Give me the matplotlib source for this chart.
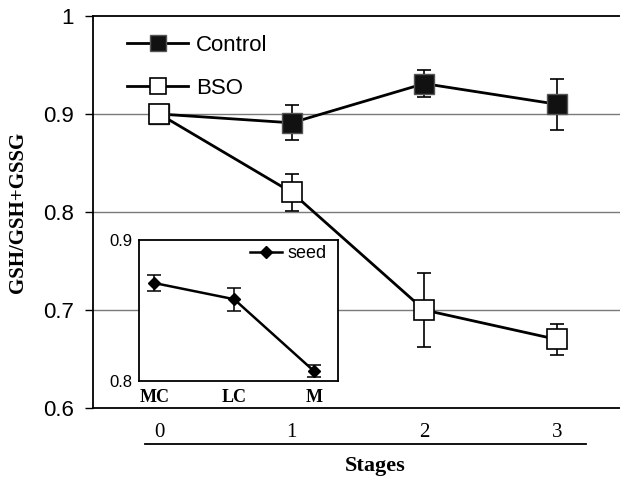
import matplotlib
matplotlib.use("Agg")
import matplotlib.pyplot as plt
from matplotlib.lines import Line2D

OUTPUT_PLOT = "out.png"

# main panel data
stages      = [0, 1, 2, 3]
control     = [0.900, 0.891, 0.931, 0.910]
control_err = [0.005, 0.018, 0.014, 0.026]
bso         = [0.900, 0.820, 0.700, 0.670]
bso_err     = [0.005, 0.019, 0.038, 0.016]

# inset data (seed)
seed_labels = ["MC", "LC", "M"]
seed_vals   = [0.8695, 0.858, 0.807]
seed_err    = [0.006, 0.008, 0.004]

SANS  = "Liberation Sans"
SERIF = "Liberation Serif"

fig = plt.figure(figsize=(6.2, 4.78), dpi=100)

# ── main axes ──
ax = fig.add_axes([93 / 620, 1 - 408 / 478, 530 / 620, 392 / 478])
ax.set_xlim(-0.5, 3.5)
ax.set_ylim(0.6, 1.0)

for y in [0.7, 0.8, 0.9]:
    ax.axhline(y, color="#7a7a7a", linewidth=1.0, zorder=1)

ax.errorbar(stages, control, yerr=control_err, fmt="none", ecolor="black",
            elinewidth=1.2, capsize=5, capthick=1.2, zorder=2)
ax.errorbar(stages, bso, yerr=bso_err, fmt="none", ecolor="black",
            elinewidth=1.2, capsize=5, capthick=1.2, zorder=2)
ax.plot(stages, control, "-s", color="black", linewidth=2.0, markersize=14.5,
        markerfacecolor="#111111", markeredgecolor="#555555",
        markeredgewidth=1.0, zorder=3)
ax.plot(stages, bso, "-s", color="black", linewidth=2.0, markersize=14.5,
        markerfacecolor="white", markeredgecolor="black",
        markeredgewidth=1.2, zorder=4)

ax.spines["right"].set_visible(False)
for s in ["left", "top", "bottom"]:
    ax.spines[s].set_linewidth(1.3)

ax.set_yticks([0.6, 0.7, 0.8, 0.9, 1.0])
ax.set_yticklabels(["0.6", "0.7", "0.8", "0.9", "1"], fontfamily=SANS, fontsize=16)
ax.tick_params(axis="y", direction="out", length=6, width=1.0, pad=8)
ax.set_xticks(stages)
ax.set_xticklabels([str(s) for s in stages], fontfamily=SERIF, fontsize=15)
ax.tick_params(axis="x", length=0, pad=11)

# rule under the stage numbers
ax.plot([-0.105, 3.22], [-0.092, -0.092], color="black", linewidth=1.3,
        transform=ax.get_xaxis_transform(), clip_on=False)
ax.text((375 - 93) / 530, (408 - 466) / 392, "Stages", transform=ax.transAxes,
        ha="center", va="center", fontfamily=SERIF, fontweight="bold", fontsize=16)
ax.text(-0.142, 0.5, "GSH/GSH+GSSG", transform=ax.transAxes, rotation=90,
        ha="center", va="center", fontfamily=SERIF, fontweight="bold", fontsize=15)

handles = [
    Line2D([], [], color="black", linewidth=2.0, marker="s", markersize=14.5,
           markerfacecolor="#111111", markeredgecolor="#555555"),
    Line2D([], [], color="black", linewidth=2.0, marker="s", markersize=14.5,
           markerfacecolor="white", markeredgecolor="black", markeredgewidth=1.2),
]
ax.legend(handles, ["Control", "BSO"], loc="upper left",
          bbox_to_anchor=((127 - 93) / 530, (408 - 35) / 392),
          frameon=False, borderpad=0, borderaxespad=0, markerscale=0.8,
          handlelength=2.75, handletextpad=0.35, labelspacing=1.0,
          prop={"family": SANS, "size": 16})

# ── inset ──
ins = fig.add_axes([139 / 620, 1 - 381 / 478, 199 / 620, 141 / 478])
ins.set_facecolor("white")
ins.set_zorder(5)
ins.set_xlim(-0.19, 2.3)
ins.set_ylim(0.8, 0.9)
xs = list(range(len(seed_labels)))
ins.errorbar(xs, seed_vals, yerr=seed_err, fmt="none", ecolor="black",
             elinewidth=1.1, capsize=5, capthick=1.1)
ins.plot(xs, seed_vals, "-D", color="black", linewidth=1.8, markersize=6.5,
         label="seed")
ins.set_yticks([0.8, 0.9])
ins.set_yticklabels(["0.8", "0.9"], fontfamily=SANS, fontsize=12)
ins.set_xticks(xs)
ins.set_xticklabels(seed_labels, fontfamily=SERIF, fontweight="bold", fontsize=13)
ins.tick_params(axis="both", length=0)
ins.tick_params(axis="y", pad=5)
ins.tick_params(axis="x", pad=6)
for s in ins.spines.values():
    s.set_linewidth(1.3)
ins.legend(loc="upper right", bbox_to_anchor=((327 - 139) / 199, (381 - 245) / 141),
           frameon=False, borderpad=0, borderaxespad=0, handlelength=1.8,
           handletextpad=0.3, prop={"family": SANS, "size": 13})

fig.savefig(OUTPUT_PLOT, dpi=100)
